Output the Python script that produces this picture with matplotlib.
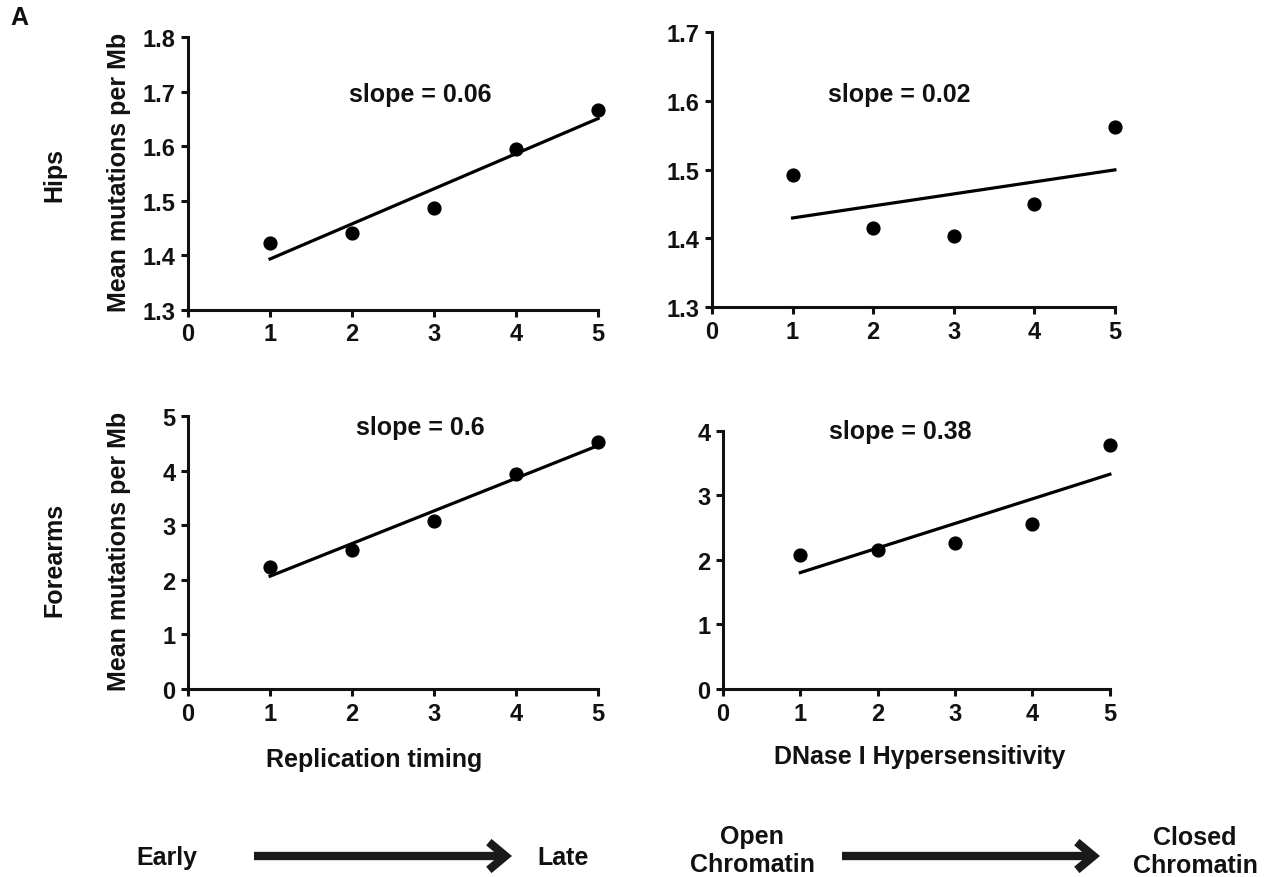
import numpy as np
import matplotlib
matplotlib.use("Agg")
import matplotlib.pyplot as plt
from matplotlib.patches import FancyArrowPatch

plt.rcParams['font.family'] = ['Liberation Sans', 'DejaVu Sans']
plt.rcParams['font.weight'] = 'bold'

# ---- data ----
bins = [1, 2, 3, 4, 5]
hips_replication = [1.422, 1.441, 1.486, 1.594, 1.667]
hips_dnase = [1.492, 1.415, 1.404, 1.450, 1.562]
forearms_replication = [2.23, 2.54, 3.08, 3.94, 4.52]
forearms_dnase = [2.08, 2.15, 2.26, 2.56, 3.78]
slope_labels = ["slope = 0.06", "slope = 0.02", "slope = 0.6", "slope = 0.38"]
row_labels = ["Hips", "Forearms"]
ylabel = "Mean mutations per Mb"
xlabels = ["Replication timing", "DNase I Hypersensitivity"]

W, H = 1275, 878
fig = plt.figure(figsize=(W / 100, H / 100), dpi=100)


def fx(px):
    return px / W


def fy(py):
    return 1 - py / H


panels = [
    # rect, data, ylim, yticks, yfmt, slope text pos
    ([0.1475, 0.6458, 0.3216, 0.311], hips_replication, (1.3, 1.8),
     [1.3, 1.4, 1.5, 1.6, 1.7, 1.8], "{:.1f}", (2.83, 1.696)),
    ([0.5584, 0.6492, 0.3160, 0.313], hips_dnase, (1.3, 1.7),
     [1.3, 1.4, 1.5, 1.6, 1.7], "{:.1f}", (2.33, 1.61)),
    ([0.1475, 0.2141, 0.3216, 0.311], forearms_replication, (0, 5),
     [0, 1, 2, 3, 4, 5], "{:.0f}", (2.83, 4.80)),
    ([0.5670, 0.2141, 0.3035, 0.294], forearms_dnase, (0, 4),
     [0, 1, 2, 3, 4], "{:.0f}", (2.29, 4.00)),
]

FS = 18
axes = []
for i, (rect, ys, ylim, yticks, yfmt, tpos) in enumerate(panels):
    ax = fig.add_axes(rect)
    axes.append(ax)
    x = np.array(bins, dtype=float)
    y = np.array(ys)
    ax.scatter(x, y, s=85, color='black', zorder=3, clip_on=False)
    m, b = np.polyfit(x, y, 1)
    ax.plot([x.min(), x.max()], [m * x.min() + b, m * x.max() + b],
            color='black', lw=2.3, clip_on=False)
    ax.set_xlim(0, 5)
    ax.set_ylim(*ylim)
    ax.set_xticks([0, 1, 2, 3, 4, 5])
    ax.set_yticks(yticks)
    ax.set_yticklabels([yfmt.format(v) for v in yticks])
    for s in ['top', 'right']:
        ax.spines[s].set_visible(False)
    for s in ['left', 'bottom']:
        ax.spines[s].set_linewidth(2.2)
        ax.spines[s].set_color('#111111')
    ax.tick_params(direction='out', length=5, width=2.2, labelsize=17, pad=4,
                   colors='#111111')
    for lab in ax.get_xticklabels() + ax.get_yticklabels():
        lab.set_fontweight('bold')
    ax.text(tpos[0], tpos[1], slope_labels[i], ha='center', va='center',
            fontsize=FS, fontweight='bold', color='#111111')

# y labels (left column)
fig.text(fx(119), fy(172), ylabel, rotation=90, ha='center', va='center',
         fontsize=FS, fontweight='bold', color='#111111')
fig.text(fx(119), fy(551), ylabel, rotation=90, ha='center', va='center',
         fontsize=FS, fontweight='bold', color='#111111')

# row labels
fig.text(fx(54), fy(175), row_labels[0], rotation=90, ha='center', va='center',
         fontsize=FS, fontweight='bold', color='#111111')
fig.text(fx(54), fy(560), row_labels[1], rotation=90, ha='center', va='center',
         fontsize=FS, fontweight='bold', color='#111111')
fig.text(fx(10), fy(18), "A", ha='left', va='center', fontsize=FS, fontweight='bold',
         color='#111111')

# x labels
fig.text(fx(374), fy(760), xlabels[0], ha='center', va='center',
         fontsize=FS, fontweight='bold', color='#111111')
fig.text(fx(920), fy(757), xlabels[1], ha='center', va='center',
         fontsize=FS, fontweight='bold', color='#111111')

# bottom direction arrows
fig.text(fx(167), fy(858), "Early", ha='center', va='center', fontsize=FS, fontweight='bold',
         color='#111111')
fig.text(fx(563), fy(858), "Late", ha='center', va='center', fontsize=FS, fontweight='bold',
         color='#111111')
fig.text(fx(752), fy(851), "Open\nChromatin", ha='center', va='center', fontsize=FS,
         fontweight='bold', linespacing=1.2, color='#111111')
fig.text(fx(1195), fy(852), "Closed\nChromatin", ha='center', va='center', fontsize=FS,
         fontweight='bold', linespacing=1.2, color='#111111')

arrow_kw = dict(arrowstyle='->,head_length=0.6,head_width=0.5', lw=6, color='#1a1a1a',
                shrinkA=0, shrinkB=0, mutation_scale=20, transform=fig.transFigure,
                joinstyle='miter', capstyle='butt')
fig.add_artist(FancyArrowPatch((fx(254), fy(857)), (fx(512), fy(857)), **arrow_kw))
fig.add_artist(FancyArrowPatch((fx(842), fy(857)), (fx(1100), fy(857)), **arrow_kw))

fig.savefig("out.png", dpi=100, facecolor='white')
